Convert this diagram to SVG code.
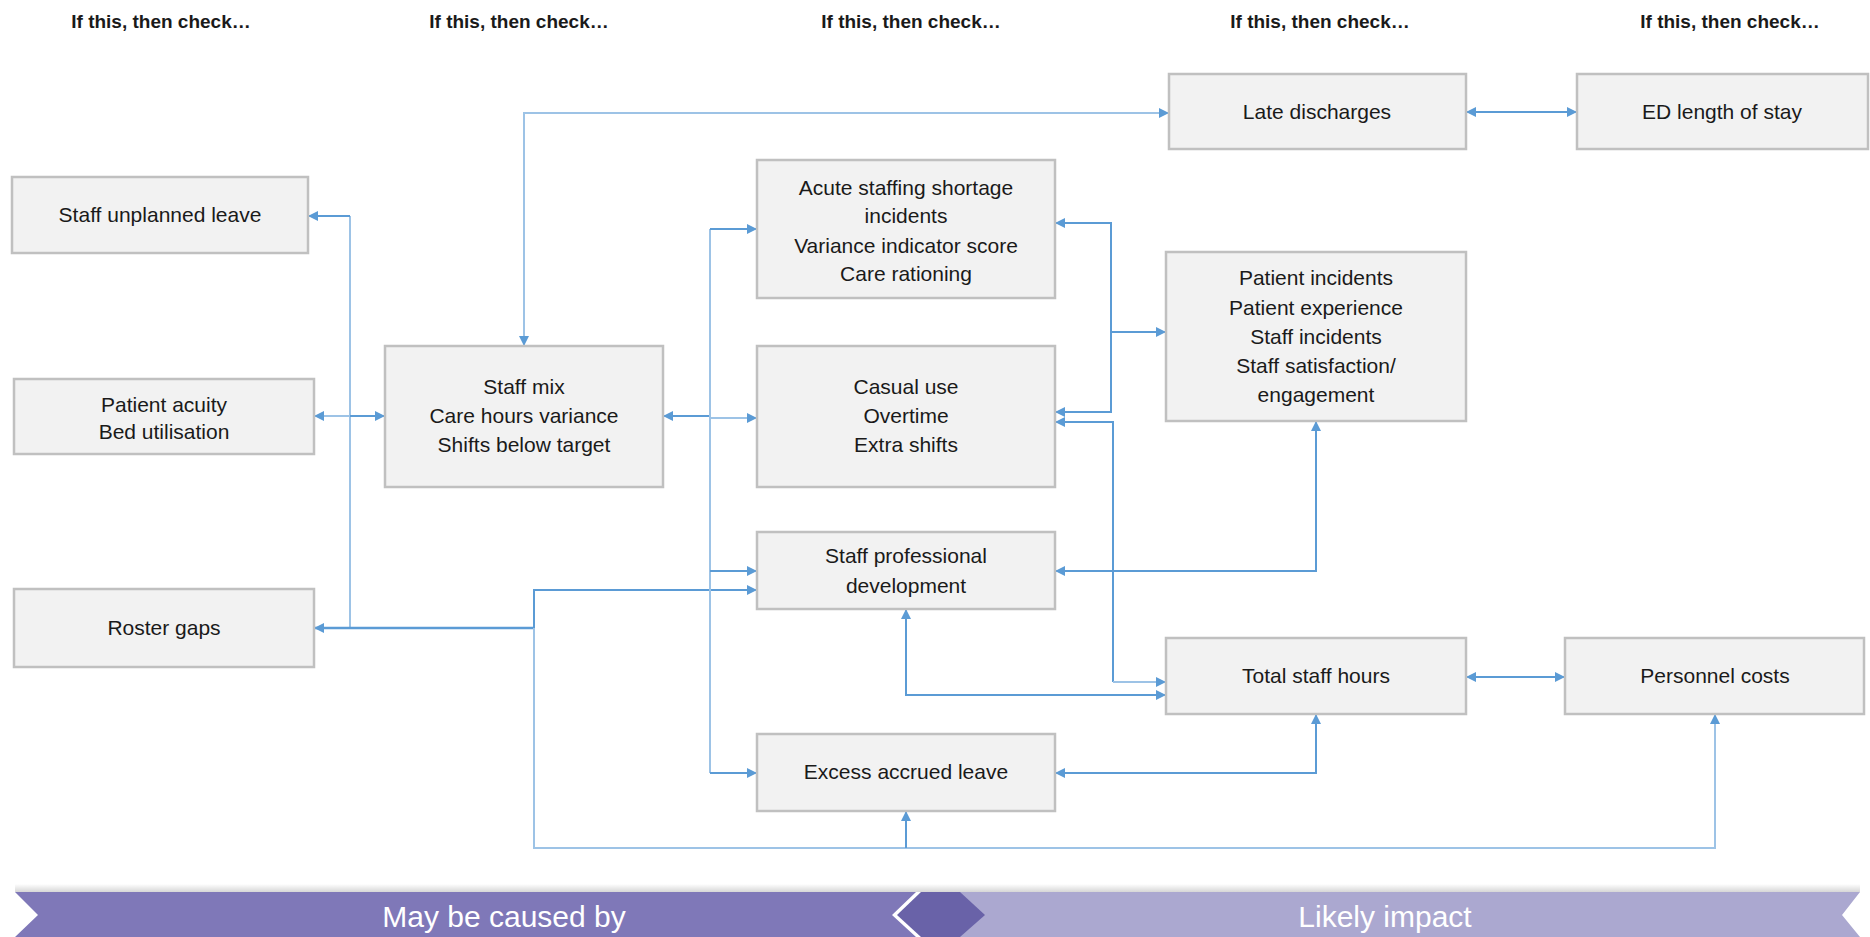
<svg xmlns="http://www.w3.org/2000/svg" width="1870" height="937" viewBox="0 0 1870 937">
<style>
.box{fill:#f2f2f2;stroke:#c0c0c0;stroke-width:2.5}
.t{font-family:"Liberation Sans",Arial,sans-serif;font-size:21px;fill:#1a1a1a;text-anchor:middle}
.h{font-family:"Liberation Sans",Arial,sans-serif;font-size:19px;font-weight:bold;fill:#1a1a1a;text-anchor:middle}
.b{font-family:"Liberation Sans",Arial,sans-serif;font-size:30px;fill:#ffffff;text-anchor:middle}
.c{fill:none;stroke:#5b9bd5;stroke-width:2}
.cl{fill:none;stroke:#9dc3e6;stroke-width:2}
</style>
<defs>
<marker id="a" viewBox="0 0 10 10" refX="10" refY="5" markerWidth="10" markerHeight="10" markerUnits="userSpaceOnUse" orient="auto-start-reverse">
<path d="M0,0 L10,5 L0,10 z" fill="#5b9bd5"/>
</marker>
<linearGradient id="sh" x1="0" y1="0" x2="0" y2="1">
<stop offset="0" stop-color="#ffffff"/>
<stop offset="1" stop-color="#d6d6d6"/>
</linearGradient>
</defs>
<rect width="1870" height="937" fill="#ffffff"/>

<g id="headers">
<text class="h" x="161" y="28">If this, then check…</text>
<text class="h" x="519" y="28">If this, then check…</text>
<text class="h" x="911" y="28">If this, then check…</text>
<text class="h" x="1320" y="28">If this, then check…</text>
<text class="h" x="1730" y="28">If this, then check…</text>
</g>

<g id="connectors">
<path class="cl" d="M524,346 V113 H1169" marker-start="url(#a)" marker-end="url(#a)"/>
<path class="c" d="M1466,112 H1577" marker-start="url(#a)" marker-end="url(#a)"/>
<path class="cl" d="M350,216 V628"/>
<path class="c" d="M350,216 H308" marker-end="url(#a)"/>
<path class="cl" d="M350,416 H314" marker-end="url(#a)"/>
<path class="c" d="M350,416 H385" marker-end="url(#a)"/>
<path class="c" d="M534,628 H314" marker-end="url(#a)" style="stroke-width:2.5"/>
<path class="c" d="M534,628 V590 H757" marker-end="url(#a)"/>
<path class="cl" d="M534,628 V848 H1715 V714" marker-end="url(#a)"/>
<path class="c" d="M906,848 V811" marker-end="url(#a)"/>
<path class="c" d="M710,416 H663" marker-end="url(#a)"/>
<path class="cl" d="M710,229 V773"/>
<path class="c" d="M710,229 H757" marker-end="url(#a)"/>
<path class="cl" d="M710,418 H757" marker-end="url(#a)"/>
<path class="c" d="M710,571 H757" marker-end="url(#a)"/>
<path class="c" d="M710,773 H757" marker-end="url(#a)"/>
<path class="c" d="M1111,332 V223 H1055" marker-end="url(#a)"/>
<path class="c" d="M1111,332 V412 H1055" marker-end="url(#a)"/>
<path class="c" d="M1111,332 H1166" marker-end="url(#a)"/>
<path class="c" d="M1113,682 V422 H1055" marker-end="url(#a)"/>
<path class="cl" d="M1113,682 H1166" marker-end="url(#a)"/>
<path class="c" d="M1316,421 V571 H1055" marker-start="url(#a)" marker-end="url(#a)"/>
<path class="c" d="M906,609 V695 H1166" marker-start="url(#a)" marker-end="url(#a)"/>
<path class="c" d="M1055,773 H1316 V714" marker-start="url(#a)" marker-end="url(#a)"/>
<path class="c" d="M1466,677 H1565" marker-start="url(#a)" marker-end="url(#a)"/>
</g>

<g id="late-discharges">
<rect class="box" x="1169" y="74" width="297" height="75"/>
<text class="t" x="1317" y="119">Late discharges</text>
</g>
<g id="ed-length-of-stay">
<rect class="box" x="1577" y="74" width="291" height="75"/>
<text class="t" x="1722" y="119">ED length of stay</text>
</g>
<g id="staff-unplanned-leave">
<rect class="box" x="12" y="177" width="296" height="76"/>
<text class="t" x="160" y="222">Staff unplanned leave</text>
</g>
<g id="patient-acuity">
<rect class="box" x="14" y="379" width="300" height="75"/>
<text class="t" x="164" y="412">Patient acuity</text>
<text class="t" x="164" y="439">Bed utilisation</text>
</g>
<g id="roster-gaps">
<rect class="box" x="14" y="589" width="300" height="78"/>
<text class="t" x="164" y="635">Roster gaps</text>
</g>
<g id="staff-mix">
<rect class="box" x="385" y="346" width="278" height="141"/>
<text class="t" x="524" y="394">Staff mix</text>
<text class="t" x="524" y="423">Care hours variance</text>
<text class="t" x="524" y="452">Shifts below target</text>
</g>
<g id="acute-staffing">
<rect class="box" x="757" y="160" width="298" height="138"/>
<text class="t" x="906" y="195">Acute staffing shortage</text>
<text class="t" x="906" y="223">incidents</text>
<text class="t" x="906" y="253">Variance indicator score</text>
<text class="t" x="906" y="281">Care rationing</text>
</g>
<g id="casual-use">
<rect class="box" x="757" y="346" width="298" height="141"/>
<text class="t" x="906" y="394">Casual use</text>
<text class="t" x="906" y="423">Overtime</text>
<text class="t" x="906" y="452">Extra shifts</text>
</g>
<g id="staff-professional-development">
<rect class="box" x="757" y="532" width="298" height="77"/>
<text class="t" x="906" y="563">Staff professional</text>
<text class="t" x="906" y="593">development</text>
</g>
<g id="excess-accrued-leave">
<rect class="box" x="757" y="734" width="298" height="77"/>
<text class="t" x="906" y="779">Excess accrued leave</text>
</g>
<g id="patient-incidents">
<rect class="box" x="1166" y="252" width="300" height="169"/>
<text class="t" x="1316" y="285">Patient incidents</text>
<text class="t" x="1316" y="315">Patient experience</text>
<text class="t" x="1316" y="344">Staff incidents</text>
<text class="t" x="1316" y="373">Staff satisfaction/</text>
<text class="t" x="1316" y="402">engagement</text>
</g>
<g id="total-staff-hours">
<rect class="box" x="1166" y="638" width="300" height="76"/>
<text class="t" x="1316" y="683">Total staff hours</text>
</g>
<g id="personnel-costs">
<rect class="box" x="1565" y="638" width="299" height="76"/>
<text class="t" x="1715" y="683">Personnel costs</text>
</g>

<g id="banner">
<rect x="15" y="884" width="1845" height="8" fill="url(#sh)"/>
<polygon points="940,892 1860,892 1842,915 1860,937 940,937" fill="#aba8d0"/>
<polygon points="15,892 916,892 892,915 916,937 15,937 38,915" fill="#7f78b8"/>
<polygon points="921,892 960,892 985,915 960,937 921,937 897,915" fill="#6962a8"/>
<text class="b" x="504" y="927">May be caused by</text>
<text class="b" x="1385" y="927">Likely impact</text>
</g>
</svg>
